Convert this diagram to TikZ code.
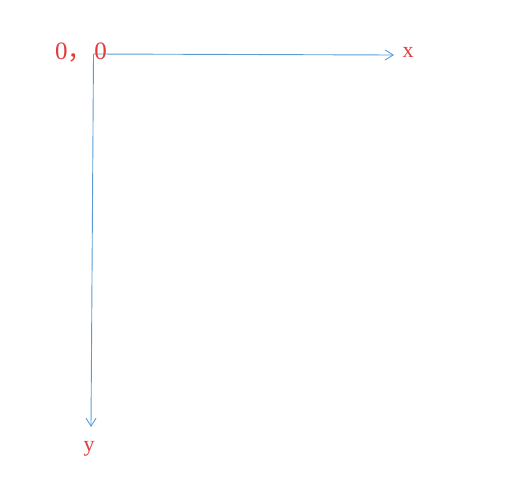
\documentclass[tikz,border=0pt]{standalone}
\usepackage{fontspec}
\setmainfont{Liberation Serif}
\newfontfamily\cjk{Noto Sans CJK SC}
\usetikzlibrary{arrows.meta}
\definecolor{axisblue}{HTML}{5B9BD5}
\definecolor{labelred}{HTML}{E03C3C}
\tikzset{
  axis/.style={draw=axisblue, line width=0.9pt, -{Straight Barb[length=8pt,width=10pt,line width=0.9pt]}},
  lbl/.style={text=labelred, inner sep=0pt, font=\fontsize{22pt}{24pt}\selectfont},
  origlbl/.style={text=labelred, inner sep=0pt, font=\fontsize{25pt}{27pt}\selectfont}
}
\begin{document}
\begin{tikzpicture}[x=1pt,y=-1pt]
\useasboundingbox (0,0) rectangle (507,477);
\coordinate (o) at (93.5,54);
\coordinate (xe) at (394,55);
\coordinate (ye) at (91,427);
\draw[axis] (o) -- (xe);
\draw[axis] (o) -- (ye);
\node[origlbl] (origin) at (81,53) {0{\cjk ，}\kern2pt0};
\node[lbl] (xl) at (408,52) {x};
\node[lbl] (yl) at (89,449) {y};
\end{tikzpicture}
\end{document}
